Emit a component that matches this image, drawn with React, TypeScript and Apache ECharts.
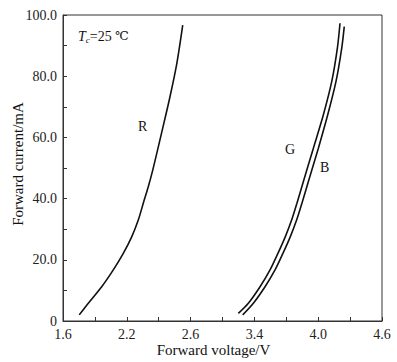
import React, { useEffect, useRef } from "react";
import * as echarts from "echarts";

const xTickLabels = ["1.6", "2.2", "2.6", "3.4", "4.0", "4.6"];
const yTickLabels = ["0", "20.0", "40.0", "60.0", "80.0", "100.0"];

const rVoltage = [1.753, 1.838, 1.964, 2.073, 2.167, 2.246, 2.308, 2.355, 2.402, 2.444, 2.53, 2.603, 2.668, 2.726];
const rCurrent = [2.0, 5.8, 11.2, 16.7, 22.1, 27.5, 33.0, 38.5, 43.9, 49.3, 61.9, 72.8, 83.7, 96.7];

const gVoltage = [3.249, 3.343, 3.453, 3.547, 3.62, 3.69, 3.75, 3.8, 3.86, 3.954, 4.048, 4.127, 4.18, 4.205];
const gCurrent = [2.5, 5.8, 11.2, 16.7, 22.0, 27.5, 33.0, 38.5, 45.5, 56.4, 67.3, 78.2, 89.1, 97.3];

const bVoltage = [3.29, 3.39, 3.5, 3.594, 3.667, 3.737, 3.797, 3.847, 3.907, 4.001, 4.089, 4.167, 4.221, 4.245];
const bCurrent = [2.0, 5.8, 11.2, 16.7, 22.0, 27.5, 33.0, 38.5, 45.5, 56.4, 67.3, 78.2, 89.1, 96.2];

const FONT = "'Liberation Serif', 'Times New Roman', serif";

function pairs(xs: number[], ys: number[]) {
  return xs.map((x, i) => [x, ys[i]]);
}

export default function App() {
  const ref = useRef<HTMLDivElement>(null);
  useEffect(() => {
    document.body.style.margin = "0";
    const chart = echarts.init(ref.current!, null, { renderer: "svg" });
    const lineStyle = { color: "#111", width: 1.6 };
    chart.setOption({
      animation: false,
      backgroundColor: "#fff",
      grid: {
        left: 63,
        right: 15,
        top: 15,
        bottom: 41,
        outerBoundsMode: "none",
        containLabel: false,
        show: true,
        borderColor: "#333",
        borderWidth: 1,
        backgroundColor: "transparent",
      },
      xAxis: {
        type: "value",
        min: 1.6,
        max: 4.6,
        interval: 0.3,
        name: "Forward voltage/V",
        nameLocation: "middle",
        nameGap: 21,
        nameMoveOverlap: false,
        nameTextStyle: { fontFamily: FONT, fontSize: 15, color: "#111", padding: [0, 18, 0, 0] },
        axisLine: { lineStyle: { color: "#333", width: 1 } },
        axisTick: { inside: true, length: 4, lineStyle: { color: "#333" } },
        splitLine: { show: false },
        axisLabel: {
          fontFamily: FONT,
          fontSize: 14,
          color: "#222",
          margin: 6,
          formatter: (v: number) => {
            const k = Math.round((v - 1.6) / 0.3);
            return k % 2 === 0 ? xTickLabels[k / 2] ?? "" : "";
          },
        },
      },
      yAxis: {
        type: "value",
        min: 0,
        max: 100,
        interval: 10,
        name: "Forward current/mA",
        nameLocation: "middle",
        nameGap: 38,
        nameMoveOverlap: false,
        nameTextStyle: { fontFamily: FONT, fontSize: 15, color: "#111", padding: [0, 0, 0, 8] },
        axisLine: { show: true, lineStyle: { color: "#333", width: 1 } },
        axisTick: { show: true, inside: true, length: 4, lineStyle: { color: "#333" } },
        splitLine: { show: false },
        axisLabel: {
          fontFamily: FONT,
          fontSize: 14,
          color: "#222",
          margin: 6,
          formatter: (v: number) => {
            const k = Math.round(v / 10);
            return k % 2 === 0 ? yTickLabels[k / 2] ?? "" : "";
          },
        },
      },
      series: [
        { name: "R", type: "line", data: pairs(rVoltage, rCurrent), showSymbol: false, smooth: 0.3, lineStyle },
        { name: "G", type: "line", data: pairs(gVoltage, gCurrent), showSymbol: false, smooth: 0.3, lineStyle },
        { name: "B", type: "line", data: pairs(bVoltage, bCurrent), showSymbol: false, smooth: 0.3, lineStyle },
      ],
      graphic: [
        {
          type: "text",
          left: 78,
          top: 29,
          style: {
            rich: {
              i: { fontFamily: FONT, fontStyle: "italic", fontSize: 14, fill: "#111" },
              s: { fontFamily: FONT, fontStyle: "italic", fontSize: 9, fill: "#111", padding: [8, 0, 0, 0] },
              n: { fontFamily: FONT, fontSize: 14, fill: "#111" },
              d: { fontFamily: "'DejaVu Serif', serif", fontSize: 12, fill: "#111" },
            },
            text: "{i|T}{s|c}{n|=25 }{d|℃}",
          },
        },
        { type: "text", left: 138, top: 119, style: { text: "R", fontFamily: FONT, fontSize: 14, fill: "#111" } },
        { type: "text", left: 285, top: 142, style: { text: "G", fontFamily: FONT, fontSize: 14, fill: "#111" } },
        { type: "text", left: 320, top: 160, style: { text: "B", fontFamily: FONT, fontSize: 14, fill: "#111" } },
      ],
    });
    return () => chart.dispose();
  }, []);
  return <div ref={ref} style={{ width: 397, height: 362 }} />;
}
